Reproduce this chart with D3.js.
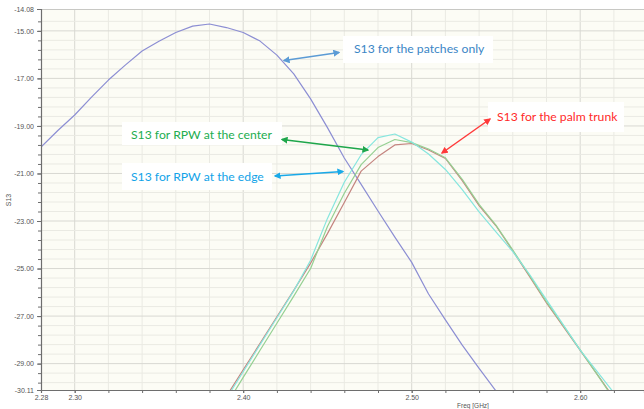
<!DOCTYPE html>
<html>
<head>
<meta charset="utf-8">
<script src="https://cdn.jsdelivr.net/npm/d3@7/dist/d3.min.js"></script>
<style>
  html, body { margin: 0; padding: 0; background: #ffffff; }
  svg { display: block; }
</style>
</head>
<body>
<svg id="chart" width="644" height="409"></svg>
<script>
// Frequency sweep (GHz)
const freq = [2.28, 2.29, 2.30, 2.31, 2.32, 2.33, 2.34, 2.35, 2.36, 2.37, 2.38, 2.39,
              2.40, 2.41, 2.42, 2.43, 2.44, 2.45, 2.46, 2.47, 2.48, 2.49, 2.50, 2.51,
              2.52, 2.53, 2.54, 2.55, 2.56, 2.57, 2.58, 2.59, 2.60, 2.61, 2.62];

// S13 (dB) for each configuration
const s13Patches = [-19.89, -19.19, -18.54, -17.79, -17.07, -16.44, -15.85, -15.44, -15.07, -14.80, -14.71, -14.86,
                    -15.07, -15.43, -16.02, -16.81, -17.86, -19.07, -20.35, -21.46, -22.58, -23.68, -24.74, -26.07,
                    -27.16, -28.22, -29.20, -30.15, null, null, null, null, null, null, null];
const s13Trunk = [null, null, null, null, null, null, null, null, null, null, null, -30.38,
                  -29.26, -28.15, -27.03, -25.92, -24.77, -23.53, -22.22, -20.90, -20.29, -19.80, -19.74, -20.01,
                  -20.37, -21.30, -22.35, -23.20, -24.26, -25.34, -26.45, -27.44, -28.44, -29.44, -30.45];
const s13Center = [null, null, null, null, null, null, null, null, null, null, null, -30.73,
                   -29.58, -28.44, -27.30, -26.16, -25.00, -23.23, -21.83, -20.63, -19.91, -19.57, -19.70, -19.97,
                   -20.34, -21.25, -22.30, -23.17, -24.22, -25.30, -26.40, -27.40, -28.42, -29.45, -30.50];
const s13Edge = [null, null, null, null, null, null, null, null, null, null, null, -30.47,
                 -29.34, -28.20, -27.07, -25.94, -24.65, -22.89, -21.37, -20.21, -19.49, -19.34, -19.68, -20.18,
                 -20.83, -21.68, -22.62, -23.46, -24.29, -25.25, -26.32, -27.37, -28.43, -29.33, -30.23];

// Axis tick labels
const xTickLabels = [2.28, 2.30, 2.40, 2.50, 2.60];
const yTickLabels = [-14.08, -15.00, -17.00, -19.00, -21.00, -23.00, -25.00, -27.00, -29.00, -30.11];

const series = [
  { name: "S13 for the patches only", values: s13Patches, color: "#8c8ed3" },
  { name: "S13 for the palm trunk", values: s13Trunk, color: "#c4847f" },
  { name: "S13 for RPW at the center", values: s13Center, color: "#95d092" },
  { name: "S13 for RPW at the edge", values: s13Edge, color: "#86e6de" }
];

const svg = d3.select("#chart");
const plotLeft = 41, plotRight = 644, plotTop = 9, plotBottom = 390;

const x = d3.scaleLinear().domain([2.28, 2.28 + (plotRight - plotLeft) / 1685]).range([plotLeft, plotRight]);
const y = d3.scaleLinear().domain([-30.11, -14.08]).range([plotBottom, plotTop]);

// plot background
svg.append("rect").attr("x", plotLeft).attr("y", plotTop)
  .attr("width", plotRight - plotLeft).attr("height", plotBottom - plotTop)
  .attr("fill", "#fcfcf5");

// grid
const xMinor = d3.range(2.30, 2.64, 0.02).map(v => +v.toFixed(2));
const yMinor = d3.range(-15.0, -30.1, -0.4).map(v => +v.toFixed(2))
  .concat([-14.6]);
const grid = svg.append("g");
grid.selectAll(".vx").data(xMinor).join("line")
  .attr("x1", d => x(d)).attr("x2", d => x(d))
  .attr("y1", plotTop).attr("y2", plotBottom)
  .attr("stroke", d => (Math.abs(d * 10 - Math.round(d * 10)) < 1e-6) ? "#d8d8d2" : "#eaeae3")
  .attr("stroke-width", 1);
grid.selectAll(".hy").data(yMinor).join("line")
  .attr("x1", plotLeft).attr("x2", plotRight)
  .attr("y1", d => y(d)).attr("y2", d => y(d))
  .attr("stroke", d => (Math.abs((d + 15) / 2 - Math.round((d + 15) / 2)) < 1e-6) ? "#d8d8d2" : "#eaeae3")
  .attr("stroke-width", 1);
// top border
svg.append("line").attr("x1", plotLeft).attr("x2", plotRight).attr("y1", plotTop + 0.5).attr("y2", plotTop + 0.5)
  .attr("stroke", "#c8c8c4");

// curves
svg.append("clipPath").attr("id", "plotclip").append("rect")
  .attr("x", plotLeft).attr("y", plotTop).attr("width", plotRight - plotLeft).attr("height", plotBottom - plotTop);
const line = d3.line()
  .defined(d => d[1] !== null)
  .x(d => x(d[0])).y(d => y(d[1]));
const curves = svg.append("g").attr("clip-path", "url(#plotclip)");
series.forEach(s => {
  curves.append("path")
    .datum(freq.map((f, i) => [f, s.values[i]]))
    .attr("d", line)
    .attr("fill", "none")
    .attr("stroke", s.color)
    .attr("stroke-width", 1.2)
    .attr("stroke-linejoin", "round");
});

// axes
const tickFont = "Liberation Sans, Arial, sans-serif";
const yAxis = svg.append("g").attr("transform", `translate(${plotLeft},0)`)
  .call(d3.axisLeft(y).tickValues(yTickLabels).tickSize(4).tickFormat(d => d.toFixed(2)));
svg.append("g").attr("transform", `translate(${plotLeft},0)`)
  .call(d3.axisLeft(y).tickValues(yMinor).tickSize(3).tickFormat(""))
  .call(g => g.select(".domain").remove());
const xAxis = svg.append("g").attr("transform", `translate(0,${plotBottom})`)
  .call(d3.axisBottom(x).tickValues(xTickLabels).tickSize(3).tickFormat(d => d.toFixed(2)));
svg.append("g").attr("transform", `translate(0,${plotBottom})`)
  .call(d3.axisBottom(x).tickValues(xMinor).tickSize(3).tickFormat(""))
  .call(g => g.select(".domain").remove());

svg.selectAll(".domain").attr("stroke", "#6e6e6e").attr("stroke-width", 1.2);
svg.selectAll(".tick line").attr("stroke", "#6e6e6e");
yAxis.selectAll("text").attr("font-family", tickFont).attr("font-size", 7).attr("fill", "#555").attr("x", -7);
xAxis.selectAll("text").attr("font-family", tickFont).attr("font-size", 7).attr("fill", "#555").attr("y", 5);

// axis titles
svg.append("text").attr("transform", "translate(11,200) rotate(-90)")
  .attr("text-anchor", "middle").attr("font-family", tickFont).attr("font-size", 7).attr("fill", "#555")
  .text("S13");
svg.append("text").attr("x", 473).attr("y", 408)
  .attr("text-anchor", "middle").attr("font-family", tickFont).attr("font-size", 6.5).attr("fill", "#555")
  .text("Freq [GHz]");

// annotations
const defs = svg.append("defs");
function marker(id, color) {
  defs.append("marker").attr("id", id)
    .attr("viewBox", "0 0 10 10").attr("refX", 8).attr("refY", 5)
    .attr("markerWidth", 7).attr("markerHeight", 7)
    .attr("markerUnits", "userSpaceOnUse")
    .attr("orient", "auto-start-reverse")
    .append("path").attr("d", "M0,0 L10,5 L0,10 z").attr("fill", color);
}
const notes = [
  { text: series[0].name, color: "#3b86c6", arrow: "#5b9bd5", box: [343, 36, 150, 27], tx: 354, ty: 53,
    a: [[284, 60.5], [339, 52.5]] },
  { text: series[1].name, color: "#ff2a2a", arrow: "#ff3a3a", box: [488, 102, 136, 30], tx: 497, ty: 121,
    a: [[490, 119], [442, 153]] },
  { text: series[2].name, color: "#22ad4f", arrow: "#1ea64b", box: [122, 122, 160, 23], tx: 131, ty: 139,
    a: [[282, 139.5], [368, 150]] },
  { text: series[3].name, color: "#12a3e8", arrow: "#19a9e8", box: [122, 163, 150, 27], tx: 131, ty: 181,
    a: [[275, 176], [343, 171.5]] }
];
const ann = svg.append("g");
notes.forEach((n, i) => {
  marker("m" + i, n.arrow);
  ann.append("rect").attr("x", n.box[0]).attr("y", n.box[1])
    .attr("width", n.box[2]).attr("height", n.box[3]).attr("fill", "#ffffff");
  ann.append("text").attr("x", n.tx).attr("y", n.ty)
    .attr("font-family", "Lato, 'Open Sans', sans-serif").attr("font-size", 12.2)
    .attr("fill", n.color).text(n.text);
  ann.append("line")
    .attr("x1", n.a[0][0]).attr("y1", n.a[0][1]).attr("x2", n.a[1][0]).attr("y2", n.a[1][1])
    .attr("stroke", n.arrow).attr("stroke-width", 1.5)
    .attr("marker-start", `url(#m${i})`)
    .attr("marker-end", `url(#m${i})`);
});
</script>
</body>
</html>
